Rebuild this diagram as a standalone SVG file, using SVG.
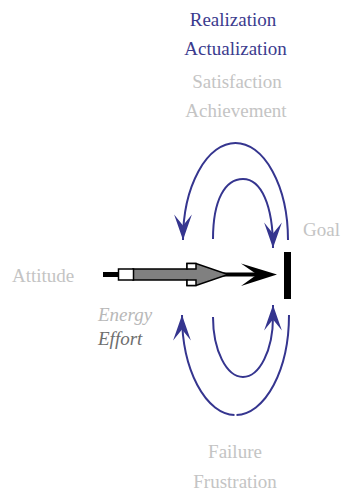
<svg xmlns="http://www.w3.org/2000/svg" width="341" height="492" viewBox="0 0 341 492">
<style>
.t{font-family:'Liberation Serif','Times New Roman',Times,serif;font-size:19px}
.blue{fill:#3b3b8e}
.lg{fill:#c4c4c4}
.arc{fill:none;stroke:#35358f;stroke-width:2;marker-end:url(#ah)}
</style>
<defs>
<marker id="ah" markerUnits="userSpaceOnUse" markerWidth="30" markerHeight="20" viewBox="-24 -9 26 18" refX="0" refY="0" orient="auto" overflow="visible">
<path d="M0,0 L-23,-8 L-13,0 L-23,8 Z" fill="#35358f"/>
</marker>
</defs>
<rect width="341" height="492" fill="#fff"/>
<g id="labels-top" class="t" font-family="Liberation Serif, serif">
<text class="blue" x="233" y="26" text-anchor="middle">Realization</text>
<text class="blue" x="235.5" y="55" text-anchor="middle">Actualization</text>
<text class="lg" x="237" y="88" text-anchor="middle">Satisfaction</text>
<text class="lg" x="236" y="117" text-anchor="middle">Achievement</text>
</g>
<g id="goal" class="t" font-family="Liberation Serif, serif"><text class="lg" x="303" y="236">Goal</text>
<rect x="284" y="252" width="7" height="47" fill="#000"/></g>
<g id="attitude" class="t" font-family="Liberation Serif, serif"><text class="lg" x="12" y="282">Attitude</text></g>
<g id="energy" class="t" font-family="Liberation Serif, serif">
<text x="98" y="321" font-style="italic" fill="#b8b8b8">Energy</text>
<text x="98" y="345" font-style="italic" fill="#6e6e6e">Effort</text>
</g>
<g id="failure" class="t" font-family="Liberation Serif, serif">
<text class="lg" x="235" y="458" text-anchor="middle">Failure</text>
<text class="lg" x="235" y="488" text-anchor="middle">Frustration</text>
</g>
<g id="main-arrow">
<rect x="103" y="272" width="16" height="5" fill="#000"/>
<line x1="200" y1="274.5" x2="262" y2="274.5" stroke="#000" stroke-width="4"/>
<polygon points="277,274.5 241,263.5 257,274.5 241,286" fill="#000"/>
<polygon points="133,269 187,269 187,263.5 196,263.5 228,274.5 196,285.5 187,285.5 187,280 133,280" fill="#808080" stroke="#000" stroke-width="1.5"/>
<rect x="187" y="263.5" width="9" height="5.5" fill="#fff" stroke="#000" stroke-width="1.5"/>
<rect x="187" y="280" width="9" height="5.5" fill="#fff" stroke="#000" stroke-width="1.5"/>
<rect x="118.5" y="269" width="15" height="11" fill="#fff" stroke="#000" stroke-width="1.5"/>
</g>
<g id="connectors">
<path class="arc" d="M288,240 A52.5,97 0 0 0 183,240"/>
<path class="arc" d="M213,239 C213,200 225,179 243,179 C261,179 273,205 273,248"/>
<path class="arc" d="M289,315 A53.5,100 0 0 1 236.5,415 M234.5,415 A53.5,100 0 0 1 182,315"/>
<path class="arc" d="M213,317 A30,60 0 0 0 273,317 L273,305"/>
</g>
</svg>
